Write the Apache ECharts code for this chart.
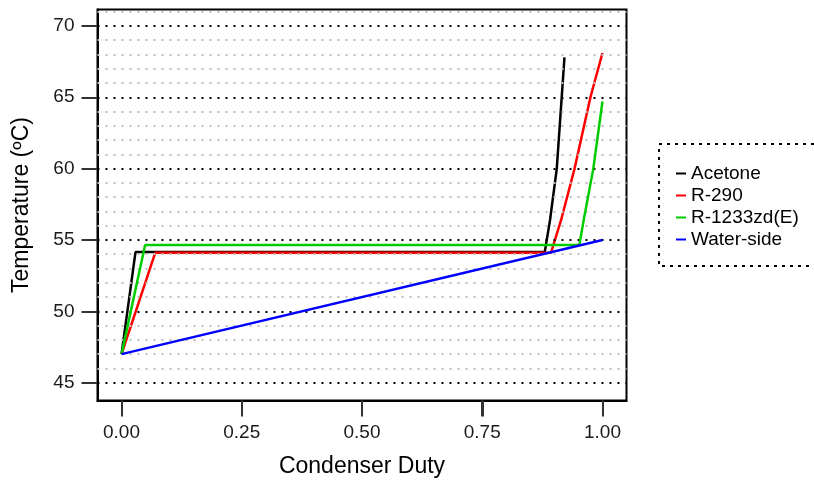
<!DOCTYPE html>
<html>
<head>
<meta charset="utf-8">
<script src="https://cdn.jsdelivr.net/npm/echarts@6/dist/echarts.min.js"></script>
<style>
  html, body { margin: 0; padding: 0; background: #fff; }
  #chart { width: 814px; height: 485px; }
</style>
</head>
<body>
<div id="chart"></div>
<script>
// condenser duty (fraction) vs temperature (C)
const acetoneX = [0, 0.029, 0.880, 0.891, 0.905, 0.921];
const acetoneT = [47.0, 54.15, 54.15, 56.4, 60.0, 67.8];
const r290X = [0, 0.070, 0.893, 0.914, 0.942, 0.975, 1.0];
const r290T = [47.0, 54.1, 54.1, 56.4, 60.0, 65.0, 68.1];
const r1233X = [0, 0.049, 0.952, 0.961, 0.981, 1.0];
const r1233T = [47.0, 54.65, 54.65, 56.4, 60.0, 64.7];
const waterX = [0, 1.0];
const waterT = [47.0, 55.0];

const seriesNames = ["Acetone", "R-290", "R-1233zd(E)", "Water-side"];
const seriesColors = ["#000000", "#FF0000", "#00CD00", "#0000FF"];

const xTicks = [0, 0.25, 0.5, 0.75, 1];
const yTicks = [45, 50, 55, 60, 65, 70];
const yMinorGrid = [46, 47, 48, 49, 51, 52, 53, 54, 56, 57, 58, 59, 61, 62, 63, 64, 66, 67, 68, 69, 71];

const FONT = "Liberation Sans, Arial, sans-serif";

function pairs(xs, ys) {
  return xs.map((x, i) => [x, ys[i]]);
}

let chartDom = document.getElementById("chart");
let myChart = echarts.init(chartDom);

const lineData = [
  pairs(acetoneX, acetoneT),
  pairs(r290X, r290T),
  pairs(r1233X, r1233T),
  pairs(waterX, waterT),
];

const gridSeries = {
  type: "line",
  data: [],
  silent: true,
  z: 1,
  markLine: {
    silent: true,
    symbol: ["none", "none"],
    label: { show: false },
    animation: false,
    data: [
      ...yMinorGrid.map((v) => ({
        yAxis: v,
        lineStyle: { color: "#bdbdbd", width: 2, type: [2, 6] },
      })),
      ...yTicks.map((v) => ({
        yAxis: v,
        lineStyle: { color: "#000000", width: 2, type: [2, 6] },
      })),
    ],
  },
};

const noSplit = { show: true, lineStyle: { color: "rgba(0,0,0,0)" } };

const options = {
  animation: false,
  backgroundColor: "#ffffff",
  textStyle: { fontFamily: FONT },
  grid: [
    // panel with ggplot-style 5% expansion
    {
      left: 97.5,
      right: 187.5,
      top: 9.5,
      bottom: 84.5,
      show: true,
      borderColor: "#000000",
      borderWidth: 2,
    },
    // 0..1 range only, carries the x ticks and labels
    { left: 121.5, right: 211.5, top: 9.5, bottom: 84.5 },
  ],
  legend: {
    data: seriesNames,
    orient: "vertical",
    left: 676,
    top: 164,
    padding: 0,
    itemGap: 3,
    icon: "rect",
    itemWidth: 10,
    itemHeight: 2,
    textStyle: { fontFamily: FONT, fontSize: 19, color: "#000", lineHeight: 19 },
  },
  graphic: [
    {
      type: "rect",
      silent: true,
      shape: { x: 659, y: 144, width: 170, height: 122 },
      style: { fill: "none", stroke: "#000", lineWidth: 2, lineDash: [3, 5] },
    },
  ],
  xAxis: [
    {
      gridIndex: 0,
      type: "value",
      min: -0.05,
      max: 1.05,
      name: "Condenser Duty",
      nameLocation: "middle",
      nameGap: 55,
      nameTextStyle: { fontFamily: FONT, fontSize: 23, color: "#000" },
      axisLine: { show: true, onZero: false, lineStyle: { color: "#000", width: 2 } },
      axisTick: { show: true, customValues: xTicks, length: 16, lineStyle: { color: "#333", width: 2 } },
      axisLabel: { show: false },
      splitLine: noSplit,
    },
    {
      gridIndex: 1,
      type: "value",
      min: 0,
      max: 1,
      interval: 0.25,
      axisLine: { show: true, onZero: false, lineStyle: { color: "#000", width: 2 } },
      axisTick: { show: true, length: 16, lineStyle: { color: "#333", width: 2 } },
      axisLabel: {
        formatter: (v) => v.toFixed(2),
        margin: 23,
        fontFamily: FONT,
        fontSize: 19,
        color: "#1a1a1a",
      },
      splitLine: noSplit,
    },
  ],
  yAxis: [
    {
      gridIndex: 0,
      type: "value",
      min: 43.75,
      max: 71.15,
      name: "Temperature (ºC)",
      nameLocation: "middle",
      nameGap: 64,
      nameTextStyle: { fontFamily: FONT, fontSize: 23, color: "#000" },
      axisLine: { show: true, onZero: false, lineStyle: { color: "#000", width: 2 } },
      axisTick: { show: true, customValues: yTicks, length: 16, lineStyle: { color: "#333", width: 2 } },
      axisLabel: { customValues: yTicks, margin: 23, fontFamily: FONT, fontSize: 19, color: "#1a1a1a" },
      splitLine: { show: false },
    },
    {
      gridIndex: 1,
      type: "value",
      min: 43.75,
      max: 71.15,
      show: false,
    },
  ],
  series: [
    gridSeries,
    ...seriesNames.map((name, i) => ({
      name: name,
      type: "line",
      xAxisIndex: 0,
      yAxisIndex: 0,
      data: lineData[i],
      showSymbol: false,
      symbol: "none",
      z: 3 + i,
      lineStyle: { color: seriesColors[i], width: 2.5 },
      itemStyle: { color: seriesColors[i] },
    })),
  ],
};
myChart.setOption(options);
</script>
</body>
</html>
